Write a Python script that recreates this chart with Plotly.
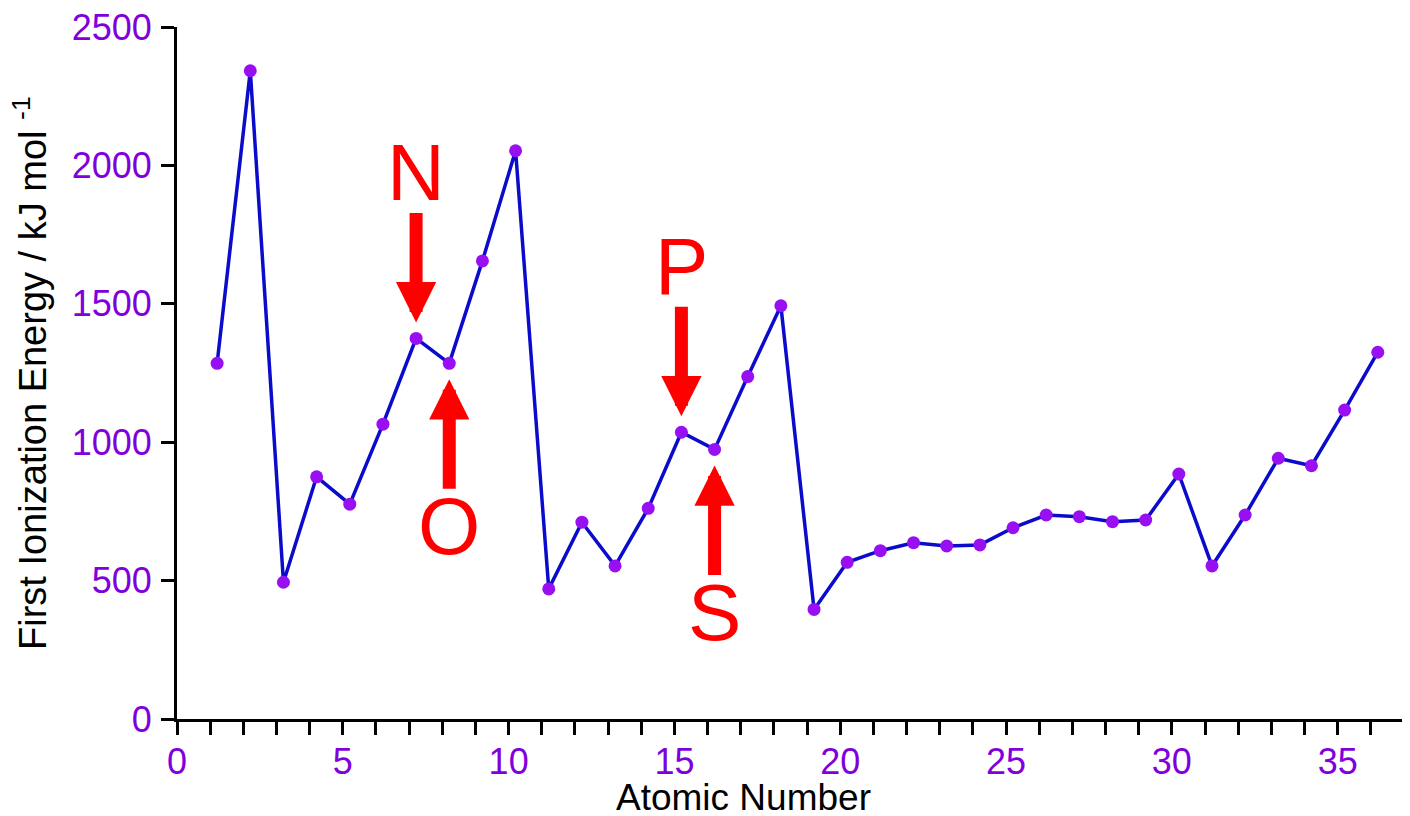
import plotly.graph_objects as go

# Atomic numbers 1..36 (H .. Kr)
atomic_number = list(range(1, 37))
# First ionization energies (kJ/mol)
ionization_energy = [1285, 2342, 494, 875, 776, 1065, 1375, 1285, 1655, 2053,
                     470, 711, 553, 761, 1036, 974, 1237, 1493, 396, 566,
                     608, 637, 625, 629, 691, 737, 731, 713, 719, 885,
                     553, 737, 942, 915, 1116, 1325]
# points are drawn slightly right of the integer tick in the original
x_offset = 0.21

labels = ["N", "O", "P", "S"]
label_z = [7, 8, 15, 16]
label_dir = ["down", "up", "down", "up"]

x_tick_vals = [0, 5, 10, 15, 20, 25, 30, 35]
y_tick_vals = [0, 500, 1000, 1500, 2000, 2500]

x_title = "Atomic Number"
y_title = "First Ionization Energy / kJ mol <sup>-1</sup>"

FONT = "Arial, Liberation Sans, sans-serif"
TICK_COLOR = "#7f00dd"

xs = [z + x_offset for z in atomic_number]

fig = go.Figure()
fig.add_trace(go.Scatter(
    x=xs, y=ionization_energy, mode="lines+markers",
    line=dict(color="#0b0bcc", width=3.5),
    marker=dict(color="#9810f2", size=13, line=dict(width=0)),
    showlegend=False, hoverinfo="skip"))

annotations = []
for lab, z, d in zip(labels, label_z, label_dir):
    xv = z + x_offset
    yv = ionization_energy[z - 1]
    sign = -1 if d == "down" else 1  # arrow coming from above (down) or below (up)
    annotations.append(dict(
        x=xv, y=yv, xref="x", yref="y", text="", showarrow=True,
        ax=0, ay=127 * sign, axref="pixel", ayref="pixel",
        arrowhead=2, arrowsize=0.62, arrowwidth=13, arrowcolor="#ff0000",
        standoff=16))
    annotations.append(dict(
        x=xv, y=yv, xref="x", yref="y", text=lab, showarrow=False,
        yshift=-166 * sign if sign < 0 else -163 * sign,
        font=dict(family=FONT, size=80, color="#ff0000"),
        xanchor="center", yanchor="middle"))

# axis titles placed as annotations (paper coords)
annotations.append(dict(
    x=0.4617, y=-0.114, xref="paper", yref="paper", text=x_title,
    showarrow=False, xanchor="center", yanchor="middle",
    font=dict(family=FONT, size=37, color="black")))
annotations.append(dict(
    x=-0.1198, y=0.5, xref="paper", yref="paper", text=y_title,
    showarrow=False, xanchor="center", yanchor="middle", textangle=-90,
    font=dict(family=FONT, size=38, color="black")))

# the page body adds an 8px margin, so the figure is sized/offset for it
fig.update_layout(
    width=1402, height=808,
    margin=dict(l=169, r=6, t=19, b=97),
    paper_bgcolor="white", plot_bgcolor="white",
    font=dict(family=FONT),
    annotations=annotations,
    xaxis=dict(
        range=[0, 37], tickvals=x_tick_vals, ticks="outside", ticklen=13,
        tickwidth=3, tickcolor="black", showline=True, linewidth=3,
        linecolor="black", showgrid=False, zeroline=False, automargin=False,
        tickfont=dict(family=FONT, size=36, color=TICK_COLOR),
        ticklabelstandoff=-4, ticklabeloverflow="allow",
        minor=dict(dtick=1, tick0=0, ticks="outside", ticklen=13,
                   tickwidth=3, tickcolor="black", showgrid=False)),
    yaxis=dict(
        range=[0, 2500], tickvals=y_tick_vals, ticks="outside", ticklen=13,
        tickwidth=3, tickcolor="black", showline=True, linewidth=3,
        linecolor="black", showgrid=False, zeroline=False, automargin=False,
        tickfont=dict(family=FONT, size=36, color=TICK_COLOR),
        ticklabelstandoff=2, ticklabeloverflow="allow"),
)

fig.write_html("out.html")
